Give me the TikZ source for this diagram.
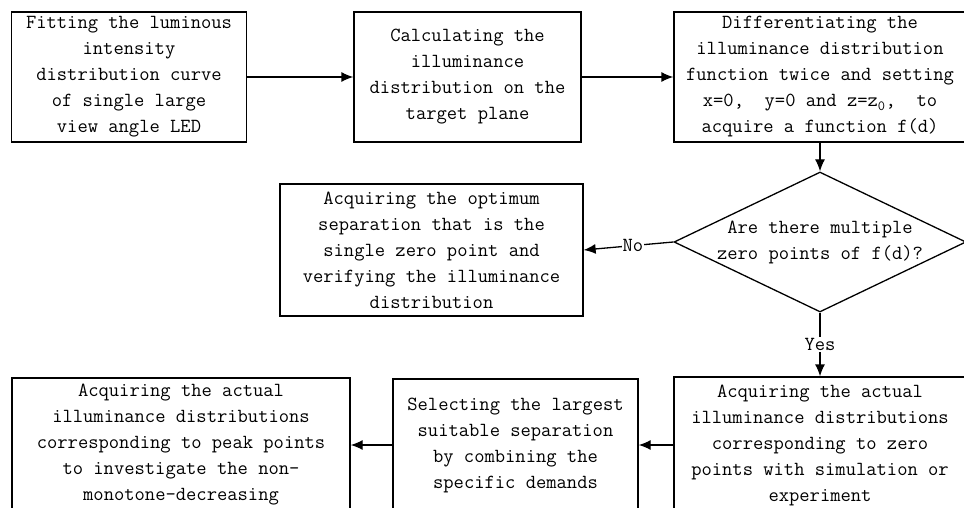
\documentclass[tikz,border=0pt]{standalone}
\usepackage{tikz}
\usetikzlibrary{shapes.geometric, arrows, arrows.meta}
\usepackage{xcolor}

\tikzset{
    stepbox/.style={draw, line width=1.3pt, align=center, inner sep=0pt,
        font=\fontsize{20}{26}\selectfont\ttfamily},
    decision/.style={draw, diamond, line width=1.3pt, inner sep=0pt},
    flow/.style={line width=1.3pt, -{Latex[length=12pt, width=10pt]}},
    flowlabel/.style={fill=white, inner sep=1pt, font=\fontsize{20}{26}\selectfont\ttfamily}
}

\begin{document}
\begin{tikzpicture}[x=1pt, y=-1pt]
    % Fix the frame of the picture
    \useasboundingbox (0,0) rectangle (964,508);
    \clip (0,0) rectangle (964,508);

    % Draw the top row of steps
    \node (fit) [stepbox, minimum width=235, minimum height=130] at (129,77)
        {Fitting the luminous\\intensity\\distribution curve\\of single large\\view angle LED};
    \node (calc) [stepbox, minimum width=227, minimum height=130] at (467.5,77)
        {Calculating the\\illuminance\\distribution on the\\target plane};
    \node (diff) [stepbox, minimum width=292, minimum height=130] at (820,77)
        {Differentiating the\\illuminance distribution\\function twice and setting\\x=0,~~y=0 and z=z\textsubscript{0},~~to\\acquire a function f(d)};

    % Draw the decision and the single zero point branch
    \node (ask) [decision, minimum width=292, minimum height=140] at (820,242) {};
    \node (asktext) [font=\fontsize{20}{26}\selectfont\ttfamily, align=center] at (ask.center)
        {Are there multiple\\zero points of f(d)?};
    \node (single) [stepbox, minimum width=303, minimum height=132] at (431.5,250)
        {Acquiring the optimum\\separation that is the\\single zero point and\\verifying the illuminance\\distribution};

    % Draw the bottom row of steps
    \node (zero) [stepbox, minimum width=292, minimum height=136] at (820,445)
        {Acquiring the actual\\illuminance distributions\\corresponding to zero\\points with simulation or\\experiment};
    \node (select) [stepbox, minimum width=245, minimum height=132] at (515.5,445)
        {Selecting the largest\\suitable separation\\by combining the\\specific demands};
    \node (peak) [stepbox, minimum width=338, minimum height=134] at (181,445)
        {Acquiring the actual\\illuminance distributions\\corresponding to peak points\\to investigate the non-\\monotone-decreasing};

    % Draw the connectors
    \draw[flow] (fit.east) -- (calc.west);
    \draw[flow] (calc.east) -- (diff.west);
    \draw[flow] (diff.south) -- (ask.north);
    \draw[flow] (ask.west) -- node[flowlabel, pos=0.45] {No} (single.east);
    \draw[flow] (ask.south) -- node[flowlabel] {Yes} (zero.north);
    \draw[flow] (zero.west) -- (select.east);
    \draw[flow] (select.west) -- (peak.east);
\end{tikzpicture}
\end{document}
